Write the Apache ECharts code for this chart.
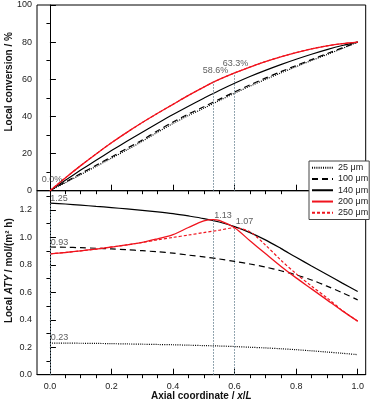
<!DOCTYPE html>
<html>
<head>
<meta charset="utf-8">
<script src="https://cdn.jsdelivr.net/npm/echarts@6/dist/echarts.min.js"></script>
<style>
  html, body { margin: 0; padding: 0; background: #fff; }
  #main { width: 372px; height: 403px; }
</style>
</head>
<body>
<div id="main"></div>
<script>
  // axial positions
  const xs = [0, 0.05, 0.1, 0.15, 0.2, 0.25, 0.3, 0.35, 0.4, 0.45, 0.5, 0.55, 0.6, 0.65, 0.7, 0.75, 0.8, 0.85, 0.9, 0.95, 1]
  const xsRed = [0, 0.05, 0.1, 0.15, 0.2, 0.25, 0.3, 0.35, 0.4, 0.45, 0.5, 0.53, 0.55, 0.6, 0.65, 0.7, 0.75, 0.8, 0.85, 0.9, 0.95, 1]

  const names = ['25 μm', '100 μm', '140 μm', '200 μm', '250 μm']

  // local conversion / %
  const conv25 = [0, 4.3, 8.7, 13.1, 17.5, 22, 26.6, 31.5, 36.2, 40.5, 44.4, 48.5, 52.5, 56.3, 59.9, 63.4, 66.8, 70.1, 73.3, 76.6, 80]
  const conv100 = [0, 4.6, 9.2, 13.7, 18.2, 22.8, 27.3, 32.3, 37, 41.3, 45.2, 49.2, 53.2, 57, 60.6, 64.1, 67.4, 70.6, 73.8, 76.9, 80]
  const conv140 = [0, 5.6, 11.1, 16.4, 21.6, 26.6, 31.5, 36.3, 41, 45.5, 49.8, 54, 57.9, 61.5, 64.8, 67.9, 70.8, 73.5, 76, 78.2, 80]
  const conv200 = [0, 6.9, 13.5, 19.8, 25.8, 31.4, 36.7, 41.7, 46.5, 51.3, 55.8, 59.9, 63.4, 66.6, 69.5, 72.1, 74.4, 76.4, 78, 79.2, 80]
  const conv250 = [0, 6.9, 13.5, 19.8, 25.8, 31.4, 36.7, 41.7, 46.5, 51.3, 55.8, 59.9, 63.4, 66.6, 69.5, 72.1, 74.4, 76.4, 78, 79.2, 80]

  // local ATY / mol/(m2 h)
  const aty25 = [0.23, 0.23, 0.229, 0.228, 0.226, 0.224, 0.222, 0.22, 0.218, 0.215, 0.212, 0.209, 0.205, 0.2, 0.195, 0.189, 0.182, 0.174, 0.165, 0.156, 0.146]
  const aty100 = [0.93, 0.928, 0.925, 0.921, 0.916, 0.91, 0.903, 0.895, 0.885, 0.871, 0.858, 0.843, 0.825, 0.806, 0.784, 0.757, 0.727, 0.69, 0.645, 0.597, 0.545]
  const aty140 = [1.25, 1.243, 1.235, 1.226, 1.217, 1.207, 1.197, 1.186, 1.173, 1.156, 1.137, 1.112, 1.078, 1.035, 0.982, 0.92, 0.855, 0.792, 0.73, 0.667, 0.606]
  const aty200 = [0.88, 0.89, 0.902, 0.915, 0.93, 0.945, 0.963, 0.99, 1.02, 1.072, 1.12, 1.13, 1.124, 1.07, 0.975, 0.882, 0.79, 0.705, 0.625, 0.545, 0.465, 0.39]
  const aty250 = [0.88, 0.89, 0.902, 0.915, 0.93, 0.945, 0.963, 0.982, 1.0, 1.017, 1.035, 1.045, 1.052, 1.07, 1.04, 0.945, 0.835, 0.735, 0.645, 0.56, 0.468, 0.39]

  // marked points
  const convMarkX = [0, 0.53, 0.6]
  const convMarkY = [0.0, 58.6, 63.3]
  const atyMarkX = [0, 0, 0, 0.53, 0.6]
  const atyMarkY = [1.25, 0.93, 0.23, 1.13, 1.07]

  // tick values
  const xMajor = [0, 0.2, 0.4, 0.6, 0.8, 1.0]
  const xMinor = [0.05, 0.1, 0.15, 0.25, 0.3, 0.35, 0.45, 0.5, 0.55, 0.65, 0.7, 0.75, 0.85, 0.9, 0.95]
  const convMajor = [0, 20, 40, 60, 80, 100]
  const convMinor = [10, 30, 50, 70, 90]
  const atyMajor = [0, 0.2, 0.4, 0.6, 0.8, 1.0, 1.2]
  const atyMinor = [0.1, 0.3, 0.5, 0.7, 0.9, 1.1, 1.3]

  const FONT = 'Liberation Sans, Arial, sans-serif'
  const RED = '#f0141e'
  const GUIDE = '#6f8896'
  const zip = (a, b) => a.map((v, i) => [v, b[i]])

  const chart = echarts.init(document.getElementById('main'))

  const tickAxis = (gridIndex, min, max, values, len, extra) => Object.assign({
    type: 'value', gridIndex, min, max,
    splitLine: { show: false },
    axisLine: { show: false },
    axisLabel: { show: false },
    axisTick: { show: true, inside: true, length: len, customValues: values, lineStyle: { color: '#000', width: 1 } }
  }, extra || {})

  const xMin = -0.042
  const xMax = 1.026

  const xAxis = [
    tickAxis(0, xMin, xMax, xMajor, 6, { axisLine: { show: true, onZero: false, lineStyle: { color: '#000' } } }),
    tickAxis(0, xMin, xMax, xMinor, 3.5),
    tickAxis(1, xMin, xMax, xMajor, 6, {
      axisLine: { show: true, onZero: false, lineStyle: { color: '#000' } },
      axisLabel: { show: true, customValues: xMajor, formatter: v => v.toFixed(1), fontSize: 9, color: '#222', fontFamily: FONT, margin: 7 },
      name: '{b|Axial coordinate / }{bi|x}{b|/}{bi|L}',
      nameLocation: 'middle',
      nameGap: 17,
      nameMoveOverlap: false,
      nameTextStyle: {
        rich: {
          b: { fontSize: 10, fontWeight: 'bold', fontFamily: FONT, color: '#111' },
          bi: { fontSize: 10, fontWeight: 'bold', fontStyle: 'italic', fontFamily: FONT, color: '#111' }
        }
      }
    }),
    tickAxis(1, xMin, xMax, xMinor, 3.5)
  ]

  const yAxis = [
    tickAxis(0, 0, 100, convMajor, 6, {
      axisLine: { show: true, lineStyle: { color: '#000' } },
      axisLabel: { show: true, customValues: convMajor, fontSize: 9, color: '#222', fontFamily: FONT, margin: 5 },
      name: 'Local conversion / %',
      nameLocation: 'middle',
      nameGap: 23,
      nameMoveOverlap: false,
      nameTextStyle: { fontSize: 10, fontWeight: 'bold', fontFamily: FONT, color: '#111', padding: [0, 0, 0, 32] }
    }),
    tickAxis(0, 0, 100, convMinor, 3.5),
    tickAxis(1, 0, 1.34, atyMajor, 6, {
      axisLine: { show: true, lineStyle: { color: '#000' } },
      axisLabel: { show: true, customValues: atyMajor, formatter: v => v.toFixed(1), fontSize: 9, color: '#222', fontFamily: FONT, margin: 5 },
      name: '{b|Local }{bi|ATY}{b| / mol/(m² h)}',
      nameLocation: 'middle',
      nameGap: 23,
      nameMoveOverlap: false,
      nameTextStyle: {
        padding: [0, 0, 0, 24],
        rich: {
          b: { fontSize: 10, fontWeight: 'bold', fontFamily: FONT, color: '#111' },
          bi: { fontSize: 10, fontWeight: 'bold', fontStyle: 'italic', fontFamily: FONT, color: '#111' }
        }
      }
    }),
    tickAxis(1, 0, 1.34, atyMinor, 3.5)
  ]

  const styles = [
    { color: '#000', type: [1, 1.2], width: 1.2 },
    { color: '#000', type: [6, 4], width: 1.2 },
    { color: '#000', type: 'solid', width: 1.2 },
    { color: RED, type: 'solid', width: 1.3 },
    { color: RED, type: [3, 2], width: 1.2 }
  ]

  const line = (i, xi, yi, data) => ({
    name: names[i], type: 'line', xAxisIndex: xi, yAxisIndex: yi,
    data, symbol: 'none', smooth: 0.3, z: 3,
    lineStyle: styles[i], itemStyle: { color: styles[i].color },
    silent: true, animation: false
  })

  // dotted guide lines from the axis up to each marked value
  const guides = (xi, yi, xsArr, ysArr) => ({
    type: 'line', xAxisIndex: xi, yAxisIndex: yi,
    data: [], symbol: 'none', z: 2, silent: true, animation: false,
    markLine: {
      silent: true, symbol: 'none', animation: false,
      label: { show: false },
      lineStyle: { color: GUIDE, type: [1.5, 1.5], width: 1 },
      data: xsArr.map((x, i) => [{ coord: [x, 0] }, { coord: [x, ysArr[i]] }])
    }
  })

  const convOffsets = [[2, -7], [2.5, -7], [1, -5]]
  const atyOffsets = [[9, 0], [9.5, 0], [9.5, -1], [10, 0], [10, -1.5]]

  const labels = (xi, yi, xsArr, ysArr, offsets, fmt) => ({
    type: 'scatter', xAxisIndex: xi, yAxisIndex: yi, symbolSize: 0, z: 5, silent: true, animation: false,
    data: xsArr.map((x, i) => ({
      value: [x, ysArr[i]],
      label: { offset: offsets[i] }
    })),
    label: {
      show: true, position: 'top', distance: 0,
      formatter: p => fmt(p.value[1]),
      fontSize: 9, color: '#333', fontFamily: FONT
    }
  })

  const series = [
    line(0, 0, 0, zip(xs, conv25)),
    line(1, 0, 0, zip(xs, conv100)),
    line(2, 0, 0, zip(xs, conv140)),
    line(3, 0, 0, zip(xs, conv200)),
    line(4, 0, 0, zip(xs, conv250)),
    line(0, 2, 2, zip(xs, aty25)),
    line(1, 2, 2, zip(xs, aty100)),
    line(2, 2, 2, zip(xs, aty140)),
    line(3, 2, 2, zip(xsRed, aty200)),
    line(4, 2, 2, zip(xsRed, aty250)),
    guides(0, 0, convMarkX.slice(1), convMarkY.slice(1)),
    guides(2, 2, [atyMarkX[0], atyMarkX[3], atyMarkX[4]], [atyMarkY[0], atyMarkY[3], atyMarkY[4]]),
    labels(0, 0, convMarkX, convMarkY, convOffsets, v => v.toFixed(1) + '%'),
    labels(2, 2, atyMarkX, atyMarkY, atyOffsets, v => v.toFixed(2))
  ]

  chart.setOption({
    animation: false,
    grid: [
      { left: 37, top: 5, width: 328.7, height: 185.7, containLabel: false, outerBoundsMode: 'none', show: true, borderColor: '#000', borderWidth: 1, backgroundColor: 'transparent' },
      { left: 37, top: 190.7, width: 328.7, height: 184, containLabel: false, outerBoundsMode: 'none', show: true, borderColor: '#000', borderWidth: 1, backgroundColor: 'transparent' }
    ],
    legend: {
      data: names,
      orient: 'vertical',
      left: 309,
      top: 161,
      itemWidth: 21,
      itemHeight: 8,
      itemGap: 0,
      padding: [1, 1, 1, 2],
      backgroundColor: '#fff',
      borderColor: '#444',
      borderWidth: 1,
      borderRadius: 0,
      z: 10,
      itemStyle: { opacity: 0 },
      textStyle: { fontSize: 9, color: '#222', fontFamily: FONT, lineHeight: 11.3 }
    },
    xAxis,
    yAxis,
    series
  })
</script>
</body>
</html>
